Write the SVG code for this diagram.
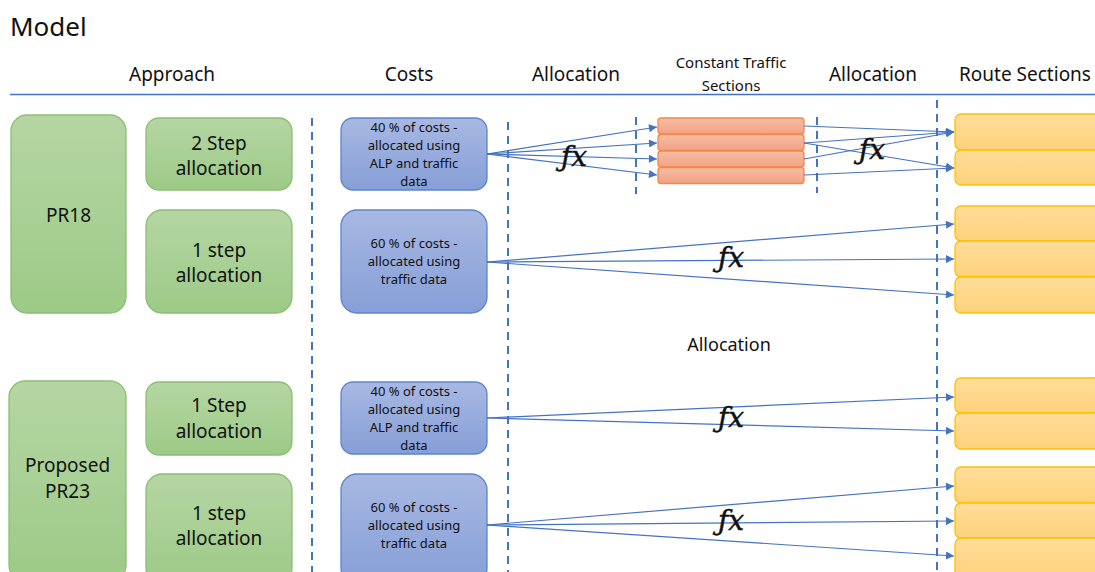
<svg xmlns="http://www.w3.org/2000/svg" width="1095" height="572" viewBox="0 0 1095 572">
  <style>
    text { font-family: "Noto Sans", "Open Sans", sans-serif; fill: #111; }
    .title { font-size: 26px; }
    .head { font-size: 19px; text-anchor: middle; }
    .headsm { font-size: 15px; text-anchor: middle; }
    .gtxt { font-size: 19px; text-anchor: middle; }
    .btxt { font-size: 13px; text-anchor: middle; }
    .mid { font-size: 18px; text-anchor: middle; }
    .fx { font-family: "DejaVu Serif", "Liberation Serif", serif; font-style: italic; font-size: 28px; text-anchor: middle; stroke: #111; stroke-width: 0.5; }
    .green { fill: url(#gGreen); stroke: #8cbf73; stroke-width: 1.3; }
    .blue { fill: url(#gBlue); stroke: #5b85d0; stroke-width: 1.3; }
    .orange { fill: url(#gOrange); stroke: #f08a4b; stroke-width: 1.3; }
    .yellow { fill: url(#gYellow); stroke: #ffc000; stroke-width: 1.3; }
    .dash { stroke: #4472c4; stroke-width: 2; stroke-dasharray: 8 6; fill: none; }
    .conn line { stroke: #4472c4; stroke-width: 1.2; marker-end: url(#arrow); }
  </style>
  <defs>
    <linearGradient id="gGreen" x1="0" y1="0" x2="0" y2="1">
      <stop offset="0" stop-color="#b5d6a3"/>
      <stop offset="1" stop-color="#9dca87"/>
    </linearGradient>
    <linearGradient id="gBlue" x1="0" y1="0" x2="0" y2="1">
      <stop offset="0" stop-color="#a8b8e2"/>
      <stop offset="1" stop-color="#869fd7"/>
    </linearGradient>
    <linearGradient id="gOrange" x1="0" y1="0" x2="0" y2="1">
      <stop offset="0" stop-color="#f6bda4"/>
      <stop offset="1" stop-color="#f3a283"/>
    </linearGradient>
    <linearGradient id="gYellow" x1="0" y1="0" x2="0" y2="1">
      <stop offset="0" stop-color="#ffdd9a"/>
      <stop offset="1" stop-color="#ffd27c"/>
    </linearGradient>
    <marker id="arrow" viewBox="0 0 10 10" refX="10" refY="5" markerWidth="9" markerHeight="8" markerUnits="userSpaceOnUse" orient="auto">
      <path d="M0,0 L10,5 L0,10 z" fill="#4472c4"/>
    </marker>
  </defs>

  <rect width="1095" height="572" fill="#ffffff"/>

  <!-- titles and column headings -->
  <text class="title" x="10" y="36">Model</text>
  <text class="head" x="172" y="81">Approach</text>
  <text class="head" x="409" y="81">Costs</text>
  <text class="head" x="576" y="81">Allocation</text>
  <text class="headsm" x="731" y="68">Constant Traffic</text>
  <text class="headsm" x="731" y="91">Sections</text>
  <text class="head" x="873" y="81">Allocation</text>
  <text class="head" x="1025" y="81">Route Sections</text>
  <line x1="10" y1="94.5" x2="1095" y2="94.5" stroke="#4472c4" stroke-width="1.3"/>

  <!-- column separators -->
  <g id="separators">
    <line class="dash" x1="312" y1="118" x2="312" y2="572"/>
    <line class="dash" x1="508" y1="122" x2="508" y2="572"/>
    <line class="dash" x1="636" y1="117" x2="636" y2="194"/>
    <line class="dash" x1="817" y1="117" x2="817" y2="193"/>
    <line class="dash" x1="937" y1="100" x2="937" y2="572"/>
  </g>

  <!-- approach column -->
  <g id="pr18">
    <rect class="green" x="11" y="115" width="115" height="198" rx="16"/>
    <text class="gtxt" x="68.5" y="222">PR18</text>
  </g>
  <g id="pr18-two-step">
    <rect class="green" x="146" y="118" width="146" height="72" rx="13"/>
    <text class="gtxt" x="219" y="150">2 Step</text>
    <text class="gtxt" x="219" y="175">allocation</text>
  </g>
  <g id="pr18-one-step">
    <rect class="green" x="146" y="210" width="146" height="103" rx="16"/>
    <text class="gtxt" x="219" y="257">1 step</text>
    <text class="gtxt" x="219" y="282">allocation</text>
  </g>
  <g id="pr23">
    <rect class="green" x="9" y="381" width="117" height="200" rx="16"/>
    <text class="gtxt" x="67.5" y="472">Proposed</text>
    <text class="gtxt" x="67.5" y="498">PR23</text>
  </g>
  <g id="pr23-step-a">
    <rect class="green" x="146" y="382" width="146" height="73" rx="13"/>
    <text class="gtxt" x="219" y="412">1 Step</text>
    <text class="gtxt" x="219" y="438">allocation</text>
  </g>
  <g id="pr23-step-b">
    <rect class="green" x="146" y="474" width="146" height="110" rx="16"/>
    <text class="gtxt" x="219" y="520">1 step</text>
    <text class="gtxt" x="219" y="545">allocation</text>
  </g>

  <!-- costs column -->
  <g id="cost-40-a">
    <rect class="blue" x="341" y="118" width="146" height="72" rx="12"/>
    <text class="btxt" x="414" y="132">40 %  of costs -</text>
    <text class="btxt" x="414" y="150">allocated using</text>
    <text class="btxt" x="414" y="168">ALP and traffic</text>
    <text class="btxt" x="414" y="186">data</text>
  </g>
  <g id="cost-60-a">
    <rect class="blue" x="341" y="210" width="146" height="103" rx="16"/>
    <text class="btxt" x="414" y="248">60 %  of costs -</text>
    <text class="btxt" x="414" y="266">allocated using</text>
    <text class="btxt" x="414" y="284">traffic data</text>
  </g>
  <g id="cost-40-b">
    <rect class="blue" x="341" y="382" width="146" height="72" rx="12"/>
    <text class="btxt" x="414" y="396">40 %  of costs -</text>
    <text class="btxt" x="414" y="414">allocated using</text>
    <text class="btxt" x="414" y="432">ALP and traffic</text>
    <text class="btxt" x="414" y="450">data</text>
  </g>
  <g id="cost-60-b">
    <rect class="blue" x="341" y="474" width="146" height="110" rx="16"/>
    <text class="btxt" x="414" y="512">60 %  of costs -</text>
    <text class="btxt" x="414" y="530">allocated using</text>
    <text class="btxt" x="414" y="548">traffic data</text>
  </g>

  <!-- constant traffic sections -->
  <g id="cts-1"><rect class="orange" x="658" y="118" width="146" height="16" rx="3"/></g>
  <g id="cts-2"><rect class="orange" x="658" y="134.5" width="146" height="16" rx="3"/></g>
  <g id="cts-3"><rect class="orange" x="658" y="151" width="146" height="16" rx="3"/></g>
  <g id="cts-4"><rect class="orange" x="658" y="167.5" width="146" height="16" rx="3"/></g>

  <!-- route sections -->
  <g id="rs-1"><rect class="yellow" x="955" y="114" width="160" height="36" rx="6"/></g>
  <g id="rs-2"><rect class="yellow" x="955" y="150" width="160" height="35" rx="6"/></g>
  <g id="rs-3"><rect class="yellow" x="955" y="206" width="160" height="35" rx="6"/></g>
  <g id="rs-4"><rect class="yellow" x="955" y="241" width="160" height="36" rx="6"/></g>
  <g id="rs-5"><rect class="yellow" x="955" y="277" width="160" height="36" rx="6"/></g>
  <g id="rs-6"><rect class="yellow" x="955" y="378" width="160" height="35" rx="6"/></g>
  <g id="rs-7"><rect class="yellow" x="955" y="413" width="160" height="36" rx="6"/></g>
  <g id="rs-8"><rect class="yellow" x="955" y="467" width="160" height="36" rx="6"/></g>
  <g id="rs-9"><rect class="yellow" x="955" y="503" width="160" height="35" rx="6"/></g>
  <g id="rs-10"><rect class="yellow" x="955" y="538" width="160" height="40" rx="6"/></g>

  <!-- allocation connectors -->
  <g id="connectors" class="conn">
    <line x1="487" y1="154" x2="657" y2="127"/>
    <line x1="487" y1="154" x2="657" y2="143"/>
    <line x1="487" y1="154" x2="657" y2="159"/>
    <line x1="487" y1="154" x2="657" y2="175"/>

    <line x1="804" y1="126" x2="954" y2="132"/>
    <line x1="804" y1="143" x2="954" y2="132"/>
    <line x1="804" y1="143" x2="954" y2="168"/>
    <line x1="804" y1="159" x2="954" y2="132"/>
    <line x1="804" y1="175" x2="954" y2="168"/>

    <line x1="487" y1="262" x2="954" y2="224"/>
    <line x1="487" y1="262" x2="954" y2="259"/>
    <line x1="487" y1="262" x2="954" y2="295"/>

    <line x1="487" y1="418" x2="954" y2="397"/>
    <line x1="487" y1="418" x2="954" y2="431"/>

    <line x1="487" y1="525" x2="954" y2="486"/>
    <line x1="487" y1="525" x2="954" y2="521"/>
    <line x1="487" y1="525" x2="954" y2="556"/>
  </g>

  <!-- function labels -->
  <text class="fx" x="574" y="166">ƒx</text>
  <text class="fx" x="872" y="159">ƒx</text>
  <text class="fx" x="731" y="267">ƒx</text>
  <text class="fx" x="731" y="427">ƒx</text>
  <text class="fx" x="731" y="530">ƒx</text>

  <text class="mid" x="729" y="351">Allocation</text>
</svg>
